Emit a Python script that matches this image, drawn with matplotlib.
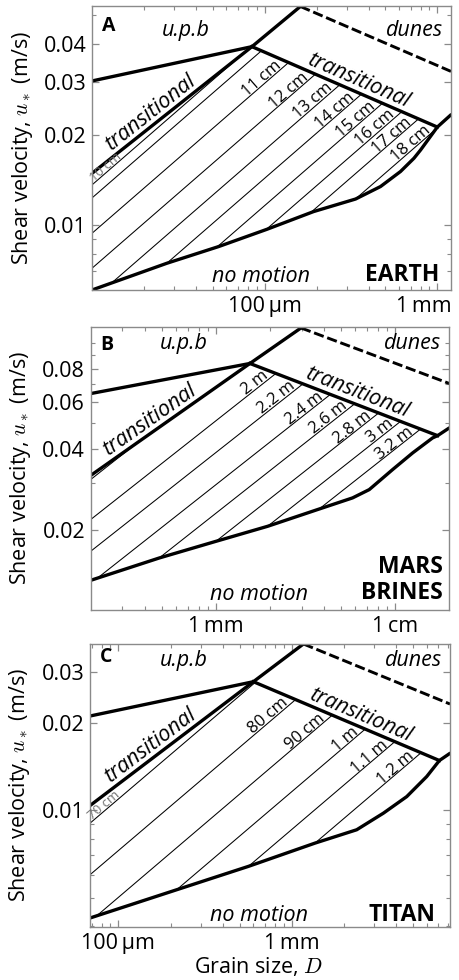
import numpy as np
import matplotlib
matplotlib.use('Agg')
import matplotlib.pyplot as plt
import matplotlib.transforms as mtrans
from matplotlib.patches import Polygon

plt.rcParams['font.family'] = ['Open Sans', 'DejaVu Sans']
plt.rcParams['mathtext.fontset'] = 'cm'

# ---------------- A: EARTH ----------------
xlim_a = (1.0e-5, 1.2e-3)
ylim_a = (0.00607, 0.0537)
thr_d_a = [1.0e-5, 27.1e-6, 54.1e-6, 103e-6, 192e-6, 336e-6, 469e-6, 612e-6, 732e-6, 800e-6, 1.0e-3, 1.2e-3]
thr_u_a = [0.00607, 0.00745, 0.00847, 0.00967, 0.01108, 0.0122, 0.01343, 0.01507, 0.01668, 0.01778, 0.0212, 0.0233]
corner_a = (1.0e-3, 0.0212)
p1_a = (84.4e-6, 0.0393)
left_u_a = 0.01486
upb_u_a = 0.0302
peak_a = (161e-6, 0.0535)
dash_u_a = 0.0325
slope_a = 0.5
k_a = [4.30, 3.89, 2.966, 2.268, 1.777, 1.431, 1.160, 0.956, 0.809, 0.666]
lab_a = ['10 cm', '', '11 cm', '12 cm', '13 cm', '14 cm', '15 cm', '16 cm', '17 cm', '18 cm']
yt_a = [0.01, 0.02, 0.03, 0.04]
ytl_a = ['0.01', '0.02', '0.03', '0.04']
ym_a = [0.007, 0.008, 0.009, 0.05]
xt_a = [1e-4, 1e-3]
xtl_a = ['100\u2009µm', '1\u2009mm']
xm_a = [2e-5, 3e-5, 4e-5, 5e-5, 6e-5, 7e-5, 8e-5, 9e-5, 2e-4, 3e-4, 4e-4, 5e-4, 6e-4, 7e-4, 8e-4, 9e-4]

# ---------------- B: MARS BRINES ----------------
xlim_b = (2.0e-4, 2.0e-2)
ylim_b = (0.01, 0.115)
thr_d_b = [2.0e-4, 4.83e-4, 1.0e-3, 1.94e-3, 3.77e-3, 5.78e-3, 7.16e-3, 9.66e-3, 1.25e-2, 1.615e-2, 1.722e-2, 2.0e-2]
thr_u_b = [0.01291, 0.01566, 0.01808, 0.02058, 0.0239, 0.0263, 0.02825, 0.03357, 0.03877, 0.04413, 0.045, 0.0481]
corner_b = (1.722e-2, 0.045)
p1_b = (1.547e-3, 0.0839)
left_u_b = 0.0319
upb_u_b = 0.0647
peak_b = (2.98e-3, 0.114)
dash_u_b = 0.0706
slope_b = 0.53
k_b = [2.812, 1.991, 1.514, 1.147, 0.8964, 0.7035, 0.5636, 0.4605]
lab_b = ['', '2 m', '2.2 m', '2.4 m', '2.6 m', '2.8 m', '3 m', '3.2 m']
yt_b = [0.02, 0.04, 0.06, 0.08]
ytl_b = ['0.02', '0.04', '0.06', '0.08']
ym_b = [0.03, 0.05, 0.07, 0.09, 0.1]
xt_b = [1e-3, 1e-2]
xtl_b = ['1\u2009mm', '1\u2009cm']
xm_b = [3e-4, 4e-4, 5e-4, 6e-4, 7e-4, 8e-4, 9e-4, 2e-3, 3e-3, 4e-3, 5e-3, 6e-3, 7e-3, 8e-3, 9e-3]

# ---------------- C: TITAN ----------------
xlim_c = (6.86e-5, 8.19e-3)
ylim_c = (0.00396, 0.0376)
thr_d_c = [6.86e-5, 2.17e-4, 5.62e-4, 1.363e-3, 2.371e-3, 3.38e-3, 4.61e-3, 6.01e-3, 7.11e-3, 8.19e-3]
thr_u_c = [0.004253, 0.005325, 0.006411, 0.007716, 0.00858, 0.00979, 0.01117, 0.0131, 0.01488, 0.01576]
corner_c = (7.11e-3, 0.01488)
p1_c = (6.01e-4, 0.02785)
left_u_c = 0.0104
upb_u_c = 0.0212
peak_c = (1.168e-3, 0.0376)
dash_u_c = 0.02332
slope_c = 0.51
k_c = [1.2013, 0.7972, 0.5495, 0.3934, 0.2913, 0.2233]
lab_c = ['70 cm', '80 cm', '90 cm', '1 m', '1.1 m', '1.2 m']
yt_c = [0.01, 0.02, 0.03]
ytl_c = ['0.01', '0.02', '0.03']
ym_c = [0.004, 0.005, 0.006, 0.007, 0.008, 0.009]
xt_c = [1e-4, 1e-3]
xtl_c = ['100\u2009µm', '1\u2009mm']
xm_c = [7e-5, 8e-5, 9e-5, 2e-4, 3e-4, 4e-4, 5e-4, 6e-4, 7e-4, 8e-4, 9e-4, 2e-3, 3e-3, 4e-3, 5e-3, 6e-3, 7e-3, 8e-3]

THICK = 2.4
THIN = 0.75
GRID_GREY = '#8a8a8a'
FS = 15.5


def disp_angle(ax, pa, pb):
    a = ax.transData.transform(pa)
    b = ax.transData.transform(pb)
    return np.degrees(np.arctan2(b[1] - a[1], b[0] - a[0]))


def along(ax, p, q, t, text, lift=4.0, size=FS):
    # text sitting on the segment p-q (log-log), at fraction t
    lx = np.log10(p[0]) + t * (np.log10(q[0]) - np.log10(p[0]))
    ly = np.log10(p[1]) + t * (np.log10(q[1]) - np.log10(p[1]))
    ang = disp_angle(ax, p, q)
    r = np.radians(ang)
    ax.annotate(text, xy=(10**lx, 10**ly), xytext=(-lift * np.sin(r), lift * np.cos(r)),
                textcoords='offset points', rotation=ang, rotation_mode='anchor',
                ha='center', va='baseline', fontsize=size, style='italic')


def panel(ax, xlim, ylim, thr_d, thr_u, corner, p1, left_u, upb_u, peak, dash_u,
          slope, ks, labels, yt, ytl, ym, xt, xtl, xm):
    ax.set_xscale('log')
    ax.set_yscale('log')
    ax.set_xlim(xlim)
    ax.set_ylim(ylim)

    # region where the wavelength contours live
    verts = [(d, u) for d, u in zip(thr_d, thr_u) if d <= corner[0]]
    verts += [p1, (xlim[0], left_u)]
    clip = Polygon(verts, closed=True, transform=ax.transData)

    x1, y1 = np.log10(p1)
    x2, y2 = np.log10(corner)
    m = (y2 - y1) / (x2 - x1)
    for i, (k, lab) in enumerate(zip(ks, labels)):
        d = np.array(xlim)
        ln, = ax.plot(d, k * d**slope, color='k', lw=THIN)
        ln.set_clip_path(clip)
        if not lab:
            continue
        lk = np.log10(k)
        if i == 0:
            x0 = xlim[0]
            p_a = (x0, k * x0**slope)
            p_b = (x0 * 10, k * (x0 * 10)**slope)
            ang = disp_angle(ax, p_a, p_b)
            r = np.radians(ang)
            ax.annotate(lab, xy=p_a, xytext=(2.5 * np.cos(r) - 0.8 * np.sin(r), 2.5 * np.sin(r) + 0.8 * np.cos(r)),
                        textcoords='offset points', rotation=ang, rotation_mode='anchor',
                        ha='left', va='baseline', fontsize=9.5, color='#707070')
            continue
        xi = (y1 - m * x1 - lk) / (slope - m)
        yi = lk + slope * xi
        pe = (10**xi, 10**yi)
        ang = disp_angle(ax, (10**(xi - 0.3), 10**(yi - 0.3 * slope)), pe)
        r = np.radians(ang)
        back, lift = 5.5, 0.8
        ax.annotate(lab, xy=pe,
                    xytext=(-back * np.cos(r) - lift * np.sin(r), -back * np.sin(r) + lift * np.cos(r)),
                    textcoords='offset points', rotation=ang, rotation_mode='anchor',
                    ha='right', va='baseline', fontsize=12)

    # thick regime boundaries
    ax.plot(thr_d, thr_u, color='k', lw=THICK, solid_capstyle='round', solid_joinstyle='round')
    ax.plot([xlim[0], p1[0], peak[0]], [left_u, p1[1], peak[1]], color='k', lw=THICK)
    ax.plot([xlim[0], p1[0]], [upb_u, p1[1]], color='k', lw=THICK)
    ax.plot([p1[0], corner[0]], [p1[1], corner[1]], color='k', lw=THICK)
    ax.plot([peak[0], xlim[1]], [peak[1], dash_u], color='k', lw=THICK - 0.3, ls=(0, (3.5, 1.3)))

    along(ax, (xlim[0], left_u), p1, 0.41, 'transitional')
    along(ax, p1, corner, 0.55, 'transitional')

    ax.set_yticks(yt)
    ax.set_yticklabels(ytl)
    ax.set_yticks(ym, minor=True)
    ax.set_xticks(xt)
    ax.set_xticklabels(xtl)
    ax.set_xticks(xm, minor=True)
    ax.yaxis.set_minor_formatter(plt.NullFormatter())
    ax.xaxis.set_minor_formatter(plt.NullFormatter())
    ax.tick_params(which='both', direction='in', top=True, right=True, color=GRID_GREY, labelsize=FS)
    ax.tick_params(which='major', length=5, width=0.9)
    ax.tick_params(which='minor', length=3, width=0.8)
    ax.tick_params(axis='y', pad=4)
    ax.tick_params(axis='x', pad=4)
    for s in ax.spines.values():
        s.set_color(GRID_GREY)
        s.set_linewidth(1.0)
    ax.set_ylabel(r'Shear velocity, $u_*$ (m/s)', fontsize=FS)
    ax.yaxis.set_label_coords(-0.16, 0.5)


fig = plt.figure(figsize=(4.6, 9.8), dpi=100)
ax_a = fig.add_axes([0.200, 0.7041, 0.7804, 0.2898])
ax_b = fig.add_axes([0.197, 0.3776, 0.7796, 0.2888])
ax_c = fig.add_axes([0.1957, 0.0541, 0.7826, 0.2888])

panel(ax_a, xlim_a, ylim_a, thr_d_a, thr_u_a, corner_a, p1_a, left_u_a, upb_u_a, peak_a, dash_u_a,
      slope_a, k_a, lab_a, yt_a, ytl_a, ym_a, xt_a, xtl_a, xm_a)
panel(ax_b, xlim_b, ylim_b, thr_d_b, thr_u_b, corner_b, p1_b, left_u_b, upb_u_b, peak_b, dash_u_b,
      slope_b, k_b, lab_b, yt_b, ytl_b, ym_b, xt_b, xtl_b, xm_b)
panel(ax_c, xlim_c, ylim_c, thr_d_c, thr_u_c, corner_c, p1_c, left_u_c, upb_u_c, peak_c, dash_u_c,
      slope_c, k_c, lab_c, yt_c, ytl_c, ym_c, xt_c, xtl_c, xm_c)

# keep the right-hand "1 mm" inside the figure
shift = mtrans.ScaledTranslation(-10 / 72, 0, fig.dpi_scale_trans)
lbl = ax_a.get_xticklabels()[-1]
lbl.set_transform(lbl.get_transform() + shift)

# region names
for ax, letter, ly, uy, ny in [(ax_a, 'A', 0.928, 0.912, 0.049),
                               (ax_b, 'B', 0.936, 0.943, 0.053),
                               (ax_c, 'C', 0.955, 0.94, 0.042)]:
    ax.text(0.028, ly, letter, transform=ax.transAxes, fontsize=14, fontweight='bold', va='center', ha='left')
    ax.text(0.26, uy, 'u.p.b', transform=ax.transAxes, fontsize=FS, style='italic', va='center', ha='center')
    ax.text(0.978, uy, 'dunes', transform=ax.transAxes, fontsize=FS, style='italic', va='center', ha='right')
    ax.text(0.47, ny, 'no motion', transform=ax.transAxes, fontsize=FS, style='italic', va='center', ha='center')

ax_a.text(0.969, 0.053, 'EARTH', transform=ax_a.transAxes, fontsize=16.5, fontweight='bold', va='center', ha='right')
ax_b.text(0.982, 0.106, 'MARS\nBRINES', transform=ax_b.transAxes, fontsize=16.5, fontweight='bold',
          va='center', ha='right', multialignment='right', linespacing=1.1)
ax_c.text(0.958, 0.042, 'TITAN', transform=ax_c.transAxes, fontsize=16.5, fontweight='bold', va='center', ha='right')

ax_c.set_xlabel(r'Grain size, $D$', fontsize=FS)
ax_c.xaxis.set_label_coords(0.467, -0.1)

fig.savefig('out.png', dpi=100)
